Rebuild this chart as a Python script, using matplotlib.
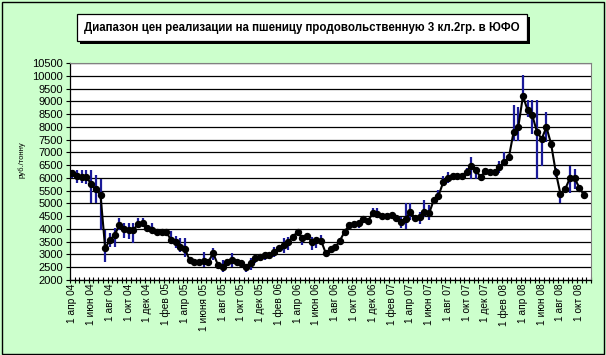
import numpy as np
import matplotlib.pyplot as plt
from matplotlib.patches import Rectangle

plt.rcParams['font.family'] = ['Liberation Sans', 'DejaVu Sans']

title = "Диапазон цен реализации на пшеницу продовольственную 3 кл.2гр. в ЮФО"
ylabel = "руб./тонну"

# semi-monthly categories, 1 апр 04 .. 1 ноя 08 (111), data up to 15 окт 08
n_cat = 111
labels = ["1 апр 04", "1 июн 04", "1 авг 04", "1 окт 04", "1 дек 04",
          "1 фев 05", "1 апр 05", "1 июня 05", "1 авг 05", "1 окт 05",
          "1 дек 05", "1 фев 06", "1 апр 06", "1 июн 06", "1 авг 06",
          "1 окт 06", "1 дек 06", "1 фев 07", "1 апр 07", "1 июн 07",
          "1 авг 07", "1 окт 07", "1 дек 07", "1 фев 08", "1 апр 08",
          "1 июн 08", "1 авг 08", "1 окт 08"]

close = [6180, 6080, 6050, 6050, 5750, 5550, 5330, 3240, 3570, 3760,
         4150, 3980, 3960, 3960, 4200, 4250, 4020, 3960, 3890, 3890,
         3890, 3570, 3480, 3300, 3200, 2780, 2720, 2720, 2740, 2720,
         3050, 2600, 2520, 2720, 2780, 2720, 2650, 2520, 2680, 2850,
         2890, 2980, 2990, 3110, 3240, 3370, 3500, 3700, 3890, 3630,
         3720, 3500, 3570, 3540, 3050, 3200, 3280, 3540, 3890, 4150,
         4180, 4250, 4380, 4320, 4610, 4590, 4510, 4510, 4550, 4420,
         4290, 4380, 4680, 4420, 4480, 4680, 4610, 5130, 5300, 5820,
         5980, 6070, 6080, 6060, 6250, 6480, 6300, 6020, 6280, 6220,
         6220, 6410, 6610, 6800, 7790, 7990, 9200, 8650, 8450, 7790,
         7530, 7990, 7330, 6220, 5360, 5560, 5990, 5990, 5620, 5330]

high = [6300, 6300, 6310, 6310, 6300, 6100, 5950, 3960, 3840, 4040,
        4430, 4230, 4230, 4230, 4430, 4430, 4100, 4230, 3950, 3950,
        3950, 3900, 3720, 3640, 3640, 2850, 2780, 2780, 3110, 2780,
        3250, 2680, 2780, 2790, 3045, 2780, 2720, 2600, 2860, 2980,
        2950, 3040, 3050, 3300, 3300, 3630, 3700, 3760, 3950, 3700,
        3780, 3700, 3630, 3760, 3150, 3280, 3340, 3630, 3950, 4220,
        4280, 4280, 4450, 4380, 4820, 4820, 4580, 4620, 4600, 4480,
        4480, 5030, 5030, 4480, 4680, 5130, 4940, 5200, 5525, 6060,
        6240, 6130, 6140, 6120, 6400, 6800, 6420, 6080, 6340, 6280,
        6280, 6650, 7000, 6950, 8840, 8780, 10025, 9040, 9040, 9040,
        7600, 8580, 7400, 6400, 5360, 5700, 6480, 6350, 5700, 5400]

low = [6000, 5800, 5790, 5760, 5020, 5020, 3960, 2720, 3300, 3300,
       3960, 3640, 3600, 3460, 4150, 4150, 3950, 3830, 3830, 3830,
       3830, 3400, 3240, 3110, 2900, 2720, 2660, 2660, 2520, 2660,
       2780, 2540, 2330, 2660, 2520, 2660, 2580, 2330, 2390, 2650,
       2830, 2780, 2900, 2910, 3180, 3045, 3175, 3640, 3830, 3370,
       3660, 3175, 3240, 3435, 2990, 3140, 3220, 3470, 3750, 4080,
       4020, 4020, 4320, 4260, 4480, 4420, 4450, 4400, 4490, 4360,
       4025, 3990, 4350, 4360, 4190, 4480, 4350, 5070, 5130, 5720,
       5790, 6000, 6020, 6000, 6100, 5955, 5955, 5960, 6220, 6160,
       6160, 6200, 6480, 6700, 7460, 7460, 9040, 8385, 7730, 5955,
       6480, 7400, 7250, 6050, 5030, 5420, 5420, 5560, 5550, 5270]

W, H = 606, 355
fig = plt.figure(figsize=(W / 100, H / 100), dpi=100, facecolor="#ccffcc")
ax = fig.add_axes([70 / W, 75 / H, 521 / W, 217 / H])
ax.set_facecolor("white")

x = np.arange(len(close))
ax.vlines(x, low, high, color="#1a1a99", lw=1.6, zorder=3)
ax.plot(x, close, color="black", lw=1.5, marker="o", ms=4.3, zorder=4)

ax.set_xlim(-0.5, n_cat - 0.5)
ax.set_ylim(2000, 10500)
ax.set_yticks(np.arange(2000, 10501, 500))
ax.yaxis.grid(True, color="black", lw=0.9)
ax.set_axisbelow(True)

ax.set_xticks(np.arange(0, n_cat, 4)[:len(labels)])
ax.set_xticklabels(labels, rotation=90, fontsize=7.3)
ax.set_xticks(np.arange(-0.5, n_cat), minor=True)
ax.tick_params(axis="x", which="major", length=0, pad=2.5)
ax.tick_params(axis="x", which="minor", direction="inout", length=5, width=0.8)
ax.tick_params(axis="y", direction="out", length=3, width=0.8, pad=2, labelsize=8)

for side in ("left", "bottom"):
    ax.spines[side].set_color("black")
    ax.spines[side].set_linewidth(0.9)
for side in ("top", "right"):
    ax.spines[side].set_color("#808080")
    ax.spines[side].set_linewidth(0.8)

fig.text(22 / W, (H - 160) / H, ylabel, rotation=90, fontsize=5.5,
         ha="center", va="center")

# title box with shadow
bx0, bx1, by0, by1 = 77, 527, 14, 41
fig.patches.append(Rectangle(((bx0 + 3) / W, (H - by1 - 3) / H), (bx1 - bx0) / W,
                             (by1 - by0) / H, transform=fig.transFigure,
                             facecolor="black", edgecolor="black", lw=0))
fig.patches.append(Rectangle((bx0 / W, (H - by1) / H), (bx1 - bx0) / W,
                             (by1 - by0) / H, transform=fig.transFigure,
                             facecolor="white", edgecolor="black", lw=0.9))
fig.text((bx0 + bx1) / 2 / W, (H - (by0 + by1) / 2) / H, title,
         fontsize=8.3, fontweight="bold", ha="center", va="center")

fig.patches.append(Rectangle((1.5 / W, 1.5 / H), 602 / W, 352 / H,
                             transform=fig.transFigure, fill=False,
                             edgecolor="black", lw=1.0))

fig.savefig("out.png", dpi=100, facecolor=fig.get_facecolor())
